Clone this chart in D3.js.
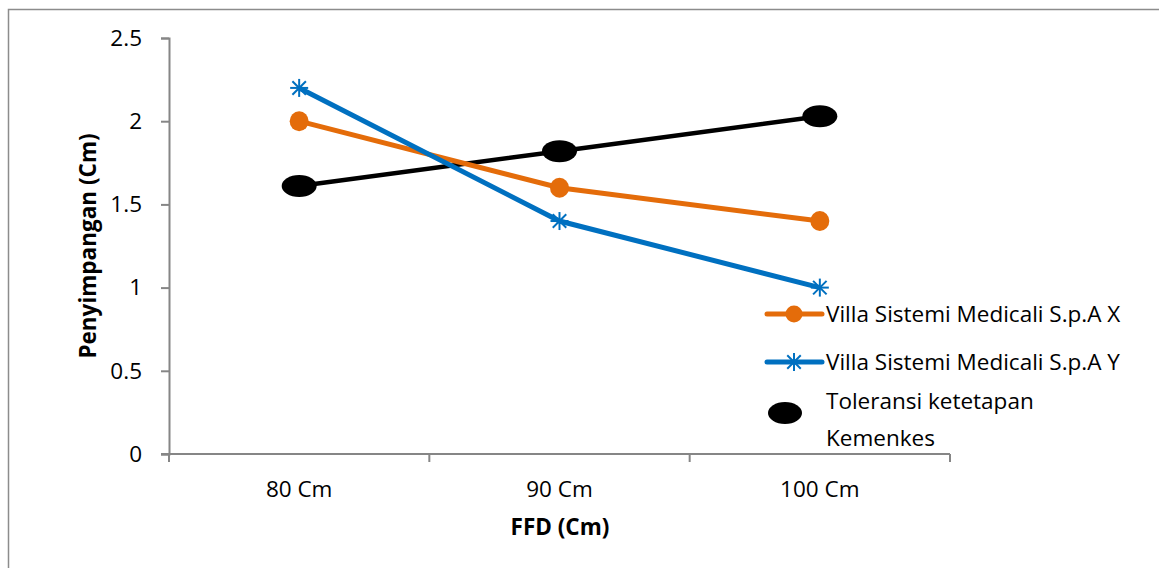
<!DOCTYPE html>
<html>
<head>
<meta charset="utf-8">
<script src="https://cdn.jsdelivr.net/npm/d3@7/dist/d3.min.js"></script>
<style>
  body { margin: 0; background: #fff; }
  svg { display: block; font-family: "Open Sans", "Noto Sans", sans-serif; }
</style>
</head>
<body>
<svg id="chart" width="1159" height="568"></svg>
<script>
// FFD distance categories
const categories = ["80 Cm", "90 Cm", "100 Cm"];
// Deviation values (cm) per series
const seriesX = [2.0, 1.6, 1.4];
const seriesY = [2.2, 1.4, 1.0];
const tolerance = [1.61, 1.82, 2.03];
const yTicks = [0, 0.5, 1, 1.5, 2, 2.5];
const seriesNames = ["Villa Sistemi Medicali S.p.A X", "Villa Sistemi Medicali S.p.A Y", "Toleransi ketetapan", "Kemenkes"];

const svg = d3.select("#chart");
const axisColor = "#868686";
const orange = "#E46C0A";
const blue = "#0070C0";
const fs = 22.5;

// outer frame
svg.append("rect")
  .attr("x", 8.5).attr("y", 9.5)
  .attr("width", 1200).attr("height", 600)
  .attr("fill", "none").attr("stroke", "#8c8c8c").attr("stroke-width", 1.5);

const plot = { left: 169, right: 950, top: 38, bottom: 454 };

const x = d3.scaleBand().domain(categories).range([plot.left, plot.right]).paddingInner(0).paddingOuter(0);
const y = d3.scaleLinear().domain([0, 2.5]).range([plot.bottom, plot.top]);
const cx = c => x(c) + x.bandwidth() / 2;

// y axis
const yAxis = svg.append("g")
  .attr("transform", `translate(${plot.left},0)`)
  .call(d3.axisLeft(y).tickValues(yTicks).tickSize(8).tickPadding(19).tickFormat(d => d3.format("")(d)));
yAxis.select(".domain").attr("stroke", axisColor).attr("stroke-width", 2);
yAxis.selectAll(".tick line").attr("stroke", axisColor).attr("stroke-width", 2);
yAxis.selectAll(".tick text").attr("font-size", fs).attr("fill", "#000")
  .attr("font-family", "'Open Sans', sans-serif");

// x axis with boundaries between categories
const xAxis = svg.append("g").attr("transform", `translate(0,${plot.bottom})`);
xAxis.append("line")
  .attr("x1", plot.left - 8).attr("x2", plot.right)
  .attr("y1", 0).attr("y2", 0)
  .attr("stroke", axisColor).attr("stroke-width", 2);
const bounds = categories.map(c => x(c)).concat([x(categories[categories.length - 1]) + x.bandwidth()]);
xAxis.selectAll(".bt").data(bounds).join("line")
  .attr("x1", d => d).attr("x2", d => d)
  .attr("y1", 0).attr("y2", 8)
  .attr("stroke", axisColor).attr("stroke-width", 2);
xAxis.selectAll(".lbl").data(categories).join("text")
  .attr("x", d => cx(d)).attr("y", 43)
  .attr("text-anchor", "middle").attr("font-size", fs).attr("fill", "#000")
  .text(d => d);

// axis titles
svg.append("text")
  .attr("x", 560).attr("y", 535)
  .attr("text-anchor", "middle").attr("font-size", fs).attr("font-weight", "bold")
  .text("FFD (Cm)");
svg.append("text")
  .attr("transform", `translate(96,246) rotate(-90)`)
  .attr("text-anchor", "middle").attr("font-size", fs).attr("font-weight", "bold")
  .text("Penyimpangan (Cm)");

const line = d3.line().x((d, i) => cx(categories[i])).y(d => y(d));

// tolerance series (black)
svg.append("path").datum(tolerance)
  .attr("d", line).attr("fill", "none").attr("stroke", "#000").attr("stroke-width", 4.5);
svg.selectAll(".tol").data(tolerance).join("ellipse")
  .attr("cx", (d, i) => cx(categories[i])).attr("cy", d => y(d))
  .attr("rx", 17.5).attr("ry", 11).attr("fill", "#000");

// series X (orange)
svg.append("path").datum(seriesX)
  .attr("d", line).attr("fill", "none").attr("stroke", orange).attr("stroke-width", 5);
svg.selectAll(".mx").data(seriesX).join("ellipse")
  .attr("cx", (d, i) => cx(categories[i])).attr("cy", d => y(d))
  .attr("rx", 9.5).attr("ry", 10).attr("fill", orange);

// asterisk marker
function star(g, size, color) {
  const r = size;
  [[-r, 0, r, 0], [0, -r, 0, r], [-r * 0.75, -r * 0.75, r * 0.75, r * 0.75], [-r * 0.75, r * 0.75, r * 0.75, -r * 0.75]]
    .forEach(s => g.append("line")
      .attr("x1", s[0]).attr("y1", s[1]).attr("x2", s[2]).attr("y2", s[3])
      .attr("stroke", color).attr("stroke-width", 2));
}

// series Y (blue)
svg.append("path").datum(seriesY)
  .attr("d", line).attr("fill", "none").attr("stroke", blue).attr("stroke-width", 5);
svg.selectAll(".my").data(seriesY).join("g")
  .attr("transform", (d, i) => `translate(${cx(categories[i])},${y(d)})`)
  .each(function () { star(d3.select(this), 9, blue); });

// legend
const legend = svg.append("g");
const lx1 = 767, lx2 = 822, lmid = 794;
legend.append("line").attr("x1", lx1).attr("x2", lx2).attr("y1", 314).attr("y2", 314)
  .attr("stroke", orange).attr("stroke-width", 5).attr("stroke-linecap", "round");
legend.append("circle").attr("cx", lmid).attr("cy", 314).attr("r", 8.5).attr("fill", orange);
legend.append("text").attr("x", 826).attr("y", 322).attr("font-size", fs).text(seriesNames[0]);

legend.append("line").attr("x1", lx1).attr("x2", lx2).attr("y1", 362).attr("y2", 362)
  .attr("stroke", blue).attr("stroke-width", 5).attr("stroke-linecap", "round");
star(legend.append("g").attr("transform", `translate(${lmid},362)`), 9, blue);
legend.append("text").attr("x", 826).attr("y", 370).attr("font-size", fs).text(seriesNames[1]);

legend.append("ellipse").attr("cx", 785).attr("cy", 413).attr("rx", 17).attr("ry", 11).attr("fill", "#000");
legend.append("text").attr("x", 826).attr("y", 409).attr("font-size", fs).text(seriesNames[2]);
legend.append("text").attr("x", 826).attr("y", 446).attr("font-size", fs).text(seriesNames[3]);
</script>
</body>
</html>
